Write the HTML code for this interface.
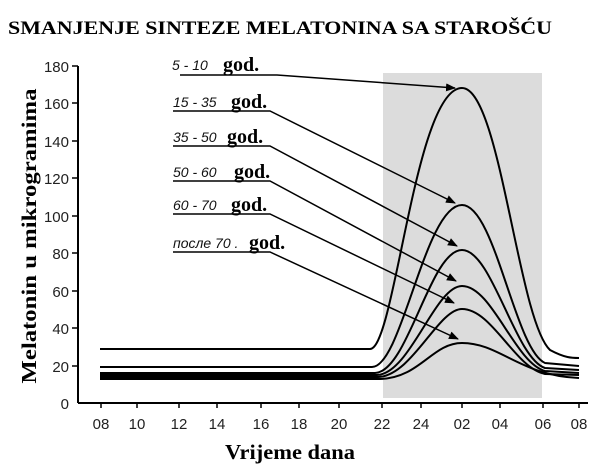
<!DOCTYPE html>
<html><head><meta charset="utf-8"><style>
html,body{margin:0;padding:0;background:#fff;}
svg{display:block;}
.t{font-family:"Liberation Sans",sans-serif;font-size:15px;fill:#222;}
.i{font-family:"Liberation Sans",sans-serif;font-style:italic;font-size:14px;fill:#111;}
.g{font-family:"Liberation Serif",serif;font-weight:bold;font-size:20px;fill:#000;}
</style></head><body>
<svg width="600" height="464" viewBox="0 0 600 464">
<defs><marker id="a" markerWidth="10" markerHeight="8" refX="9" refY="4" orient="auto" markerUnits="userSpaceOnUse"><path d="M0,0 L10,4 L0,8 z" fill="#000"/></marker></defs>
<text x="8" y="34" textLength="544" lengthAdjust="spacingAndGlyphs" font-family="Liberation Serif,serif" font-weight="bold" font-size="19" fill="#000">SMANJENJE SINTEZE MELATONINA SA STAROŠĆU</text>
<rect x="383" y="73" width="159" height="325" fill="#dcdcdc"/>
<g stroke="#000" stroke-width="2" fill="none">
<line x1="78" y1="66" x2="78" y2="403"/>
<line x1="78" y1="403" x2="588" y2="403"/>
</g>
<g stroke="#000" stroke-width="1.5">
<line x1="72" y1="66" x2="78" y2="66"/><line x1="72" y1="103" x2="78" y2="103"/><line x1="72" y1="141" x2="78" y2="141"/><line x1="72" y1="178" x2="78" y2="178"/><line x1="72" y1="216" x2="78" y2="216"/><line x1="72" y1="253" x2="78" y2="253"/><line x1="72" y1="291" x2="78" y2="291"/><line x1="72" y1="328" x2="78" y2="328"/><line x1="72" y1="366" x2="78" y2="366"/>
<line x1="101" y1="403" x2="101" y2="408"/><line x1="137" y1="403" x2="137" y2="408"/><line x1="179" y1="403" x2="179" y2="408"/><line x1="217" y1="403" x2="217" y2="408"/><line x1="261" y1="403" x2="261" y2="408"/><line x1="299" y1="403" x2="299" y2="408"/><line x1="339" y1="403" x2="339" y2="408"/><line x1="382" y1="403" x2="382" y2="408"/><line x1="421" y1="403" x2="421" y2="408"/><line x1="462" y1="403" x2="462" y2="408"/><line x1="500" y1="403" x2="500" y2="408"/><line x1="543" y1="403" x2="543" y2="408"/><line x1="579" y1="403" x2="579" y2="408"/>
</g>
<g text-anchor="end">
<text x="69" y="72" class="t" text-anchor="end">180</text><text x="69" y="109" class="t" text-anchor="end">160</text><text x="69" y="147" class="t" text-anchor="end">140</text><text x="69" y="184" class="t" text-anchor="end">120</text><text x="69" y="222" class="t" text-anchor="end">100</text><text x="69" y="259" class="t" text-anchor="end">80</text><text x="69" y="297" class="t" text-anchor="end">60</text><text x="69" y="334" class="t" text-anchor="end">40</text><text x="69" y="372" class="t" text-anchor="end">20</text><text x="69" y="409" class="t" text-anchor="end">0</text>
</g>
<g>
<text x="101" y="429" class="t" text-anchor="middle">08</text><text x="137" y="429" class="t" text-anchor="middle">10</text><text x="179" y="429" class="t" text-anchor="middle">12</text><text x="217" y="429" class="t" text-anchor="middle">14</text><text x="261" y="429" class="t" text-anchor="middle">16</text><text x="299" y="429" class="t" text-anchor="middle">18</text><text x="339" y="429" class="t" text-anchor="middle">20</text><text x="382" y="429" class="t" text-anchor="middle">22</text><text x="421" y="429" class="t" text-anchor="middle">24</text><text x="462" y="429" class="t" text-anchor="middle">02</text><text x="500" y="429" class="t" text-anchor="middle">04</text><text x="543" y="429" class="t" text-anchor="middle">06</text><text x="579" y="429" class="t" text-anchor="middle">08</text>
</g>
<text x="290" y="459" text-anchor="middle" textLength="130" lengthAdjust="spacingAndGlyphs" font-family="Liberation Serif,serif" font-weight="bold" font-size="21" fill="#000">Vrijeme dana</text>
<text transform="translate(36,236) rotate(-90)" text-anchor="middle" textLength="295" lengthAdjust="spacingAndGlyphs" font-family="Liberation Serif,serif" font-weight="bold" font-size="21" fill="#000">Melatonin  u mikrogramima</text>
<g stroke="#000" stroke-width="2" fill="none">
<path d="M100,349 L370,349 C395,349 415,88 462,88 C500,88 518,320 550,350 C565,358 572,358 579,358"/>
<path d="M100,367 L372,367 C402,367 425,205 462,205 C495,205 515,350 545,363 L579,366"/>
<path d="M100,373 L375,373 C408,372 430,250 462,250 C492,250 515,358 545,368 L579,370"/>
<path d="M100,375 L377,375 C410,374 435,286 462,286 C492,286 515,363 545,371 L579,373"/>
<path d="M100,377 L378,377 C412,376 438,309 462,309 C492,309 515,368 545,374 L579,375"/>
<path d="M100,379 L380,379 C420,378 432,343 462,343 C500,343 520,376 579,378"/>
</g>
<g stroke="#000" stroke-width="1.5" fill="none" marker-end="url(#a)">
<path d="M180,75 L277,75 L455,88"/>
<path d="M173,111 L270,111 L455,203"/>
<path d="M173,146 L270,146 L457,246"/>
<path d="M173,181 L270,181 L456,281"/>
<path d="M173,214 L270,214 L454,303"/>
<path d="M173,252 L270,252 L458,339"/>
</g>
<text x="172" y="70" class="i">5 - 10</text><text x="223" y="71" class="g">god.</text>
<text x="173" y="107" class="i">15 - 35</text><text x="231" y="108" class="g">god.</text>
<text x="173" y="142" class="i">35 - 50</text><text x="227" y="143" class="g">god.</text>
<text x="173" y="177" class="i">50 - 60</text><text x="234" y="178" class="g">god.</text>
<text x="173" y="210" class="i">60 - 70</text><text x="231" y="211" class="g">god.</text>
<text x="173" y="248" class="i">после 70 .</text><text x="249" y="249" class="g">god.</text>
</svg>
</body></html>
